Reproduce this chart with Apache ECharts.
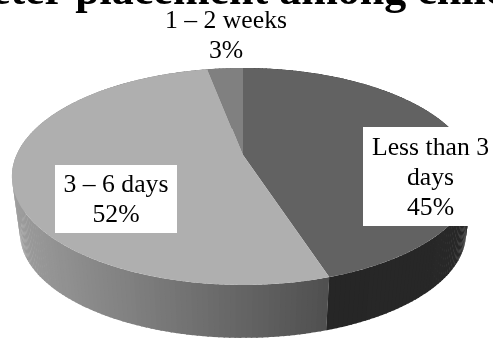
<!DOCTYPE html>
<html>
<head>
<meta charset="utf-8">
<style>html,body{margin:0;padding:0;background:#fff}#chart{width:493px;height:339px}</style>
<script src="https://cdn.jsdelivr.net/npm/echarts@6/dist/echarts.min.js"></script>
</head>
<body>
<div id="chart"></div>
<script>
// Duration shares, in percent
const categories = ['Less than 3\ndays', '3 – 6 days', '1 – 2 weeks'];
const shares = [45, 52, 3];

// Slice appearance
const topColors = ['#626262', '#afafaf', '#808080'];
const wallDarkRight = ['#2e2e2e', '#262626'];
const wallLightStops = ['#9c9c9c', '#505050'];

// Perspective model of the tilted disc
const disc = { x: 243, y: 155, rx: 226.5, ry: 104.2, tilt: 0.198 };
const base = { y: 212.5, scale: 0.965 };

// Label layout: text centre x and y, then the white box as left, top, right, bottom
const labelBoxes = [
  [430.5, 178.5, 363, 127, 498, 226],
  [116, 200.5, 55, 165, 177, 233],
  [226, 36, 0, 0, 0, 0]
];

function project(angle, rimY, scale) {
  const u = Math.sin(angle), v = -Math.cos(angle);
  const w = 1 - disc.tilt * v;
  return [disc.x + scale * disc.rx * u / w, rimY + scale * disc.ry * v / w];
}
const topRim = a => project(a, disc.y, 1);
const baseRim = a => project(a, base.y, base.scale);

function mix(c0, c1, t) {
  const p = (c, i) => parseInt(c.substr(1 + i * 2, 2), 16);
  const out = [0, 1, 2].map(i => Math.round(p(c0, i) + (p(c1, i) - p(c0, i)) * t));
  return `rgb(${out.join(',')})`;
}

// Start and end angle of every slice, clockwise from twelve o'clock
const total = shares.reduce((s, v) => s + v, 0);
const sweeps = [];
shares.reduce((start, v) => {
  const end = start + v / total * Math.PI * 2;
  sweeps.push([start, end]);
  return end;
}, 0);

function arc(a0, a1, fn) {
  const n = Math.max(4, Math.ceil(Math.abs(a1 - a0) / 0.01));
  const pts = [];
  for (let i = 0; i <= n; i++) pts.push(fn(a0 + (a1 - a0) * i / n));
  return pts;
}

// Side wall of one slice, built from narrow strips so the outline stays tangent
function wallStrips(index) {
  const [a0, a1] = sweeps[index];
  const step = 0.02, kids = [];
  const xLeft = disc.x - disc.rx, xSeam = topRim(sweeps[0][1])[0];
  for (let a = a0; a < a1; a += step) {
    const b = Math.min(a + step * 1.3, a1);
    const p0 = topRim(a), p1 = topRim(b), q1 = baseRim(b), q0 = baseRim(a);
    let fill;
    if (index === 0) {
      fill = mix(wallDarkRight[0], wallDarkRight[1], (a - a0) / (a1 - a0));
    } else {
      fill = mix(wallLightStops[0], wallLightStops[1], Math.min(1, Math.max(0, (p0[0] - xLeft) / (xSeam - xLeft))));
    }
    kids.push({ type: 'polygon', shape: { points: [p0, p1, q1, q0] }, style: { fill }, silent: true });
  }
  return kids;
}

const option = {
  animation: false,
  backgroundColor: '#fff',
  title: {
    text: 'Catheter placement among children',
    left: -107,
    top: -34,
    textStyle: { fontFamily: 'Liberation Serif', fontWeight: 'bold', fontSize: 44, color: '#000' }
  },
  series: [
    {
      // Walls first, then the top faces, then the labels
      type: 'custom',
      coordinateSystem: 'none',
      data: [2, 1, 0],
      renderItem: (params, api) => ({ type: 'group', children: wallStrips(api.value(0)) }),
      silent: true, z: 1
    },
    {
      type: 'custom',
      coordinateSystem: 'none',
      data: shares,
      renderItem: (params) => {
        const [a0, a1] = sweeps[params.dataIndex];
        const points = [[disc.x, disc.y]].concat(arc(a0, a1, topRim));
        return { type: 'polygon', shape: { points }, style: { fill: topColors[params.dataIndex] } };
      },
      silent: true, z: 2
    },
    {
      type: 'custom',
      coordinateSystem: 'none',
      data: shares,
      renderItem: (params, api) => {
        const i = params.dataIndex;
        const [cx, cy, l, t, r, b] = labelBoxes[i];
        const children = [];
        if (r > l) {
          children.push({ type: 'rect', shape: { x: l, y: t, width: r - l, height: b - t }, style: { fill: '#fff' } });
        }
        children.push({
          type: 'text', x: cx, y: cy,
          style: {
            text: `${categories[i]}\n${api.value(0)}%`,
            fill: '#000', align: 'center', verticalAlign: 'middle',
            font: '25.7px "Liberation Serif"', lineHeight: 30
          }
        });
        return { type: 'group', children };
      },
      silent: true, z: 3
    }
  ]
};
echarts.init(document.getElementById('chart'), null, { renderer: 'canvas' }).setOption(option);
</script>
</body>
</html>
